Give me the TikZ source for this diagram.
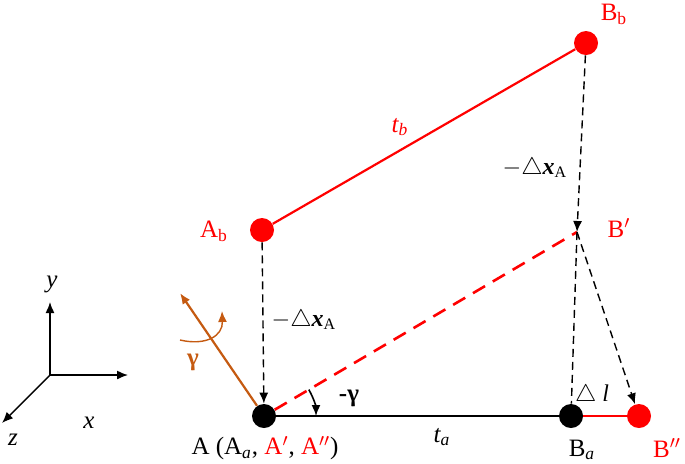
\documentclass[tikz,border=0pt]{standalone}
\usepackage{fontspec}
\setmainfont{Liberation Serif}
\usetikzlibrary{arrows.meta}
\definecolor{gorange}{RGB}{197,90,17}
\tikzstyle{dotb} = [circle, fill=black, minimum size=12pt, inner sep=0pt]
\tikzstyle{dotr} = [circle, fill=red, minimum size=12pt, inner sep=0pt]
\tikzstyle{lab} = [inner sep=0pt, font=\fontsize{12.5}{14}\selectfont]
\tikzstyle{labs} = [inner sep=0pt, font=\fontsize{12}{14}\selectfont]
\tikzstyle{mv} = [dash pattern=on 4pt off 2.5pt, line width=0.7pt]
\tikzstyle{tip} = [-{Latex[length=5.5pt,width=4.5pt]}]

\begin{document}
\begin{tikzpicture}[x=0.5pt,y=-0.5pt]
			\useasboundingbox (0,0) rectangle (685,463);
			% points
			\node[dotb](A) at (264,416){};
			\node[dotb](Ba) at (571,416){};
			\node[dotr](Bpp) at (639,416){};
			\node[dotr](Ab) at (262,230){};
			\node[dotr](Bb) at (586,43){};
			\coordinate (Bp) at (577,232);
			\coordinate (gtip) at (180,293);
			\coordinate (g1) at (180,340);
			\coordinate (g2) at (222,311);
			
			% bars
			\draw[line width=1.2pt] (A)--(Ba);
			\draw[line width=1.1pt, red] (Ba)--(Bpp);
			\draw[line width=1.1pt, red] (Ab)--(Bb);
			\draw[line width=1.3pt, red, dash pattern=on 7pt off 4.5pt] (A)--(Bp);
			
			% displacements
			\draw[mv,tip] (Ab)--(A);
			\draw[mv,tip] (Bb)--(Bp);
			\draw[mv] (Bp)--(Ba);
			\draw[mv,tip] (Bp)--(Bpp);
			
			% rotation
			\draw[gorange, line width=1.1pt, tip] (A)--(gtip);
			\draw[gorange, line width=0.7pt, tip] (g1) .. controls (206,346) and (223,336) .. (g2);
			\draw[line width=0.8pt, tip] ([shift={(30.5:26pt)}]A.center) arc[start angle=30.5, end angle=0, radius=26pt];
			
			% axes
			\coordinate (O) at (50,375);
			\coordinate (Oy) at (50,302);
			\coordinate (Ox) at (128,375);
			\coordinate (Oz) at (2,423);
			\draw[line width=0.7pt, tip] (O)--(Oy);
			\draw[line width=0.7pt, tip] (O)--(Ox);
			\draw[line width=0.7pt, tip] (O)--(Oz);
			\node[lab](ly) at (52,284){\textit{y}};
			\node[lab](lx) at (89,423){\textit{x}};
			\node[lab](lz) at (13,440){\textit{z}};
			
			% labels
			\node[lab,red](lBb) at (614,14){B\textsubscript{b}};
			\node[lab,red](ltb) at (400,127){\textit{t\textsubscript{b}}};
			\node[lab,red](lAb) at (214,231){A\textsubscript{b}};
			\node[lab,red](lBp) at (619,228){B$'$};
			\node[labs](ldx1) at (535,168){$-$$\triangle$\textbf{\textit{x}}\textsubscript{A}};
			\node[labs](ldx2) at (304,320){$-$$\triangle$\textbf{\textit{x}}\textsubscript{A}};
			\node[lab,gorange](lg) at (193,362){\textbf{γ}};
			\node[lab](lmg) at (349,398){\textbf{-γ}};
			\node[labs](ldl) at (592,395){$\triangle$ \textit{l}};
			\node[lab](lA) at (265,448){A (A\textsubscript{\textit{a}}, \textcolor{red}{A$'$}, \textcolor{red}{A$''$})};
			\node[lab](lta) at (442,437){\textit{t\textsubscript{a}}};
			\node[lab](lBa) at (582,450){B\textsubscript{\textit{a}}};
			\node[lab,red](lBpp) at (667,448){B$''$};
			\end{tikzpicture}
\end{document}
